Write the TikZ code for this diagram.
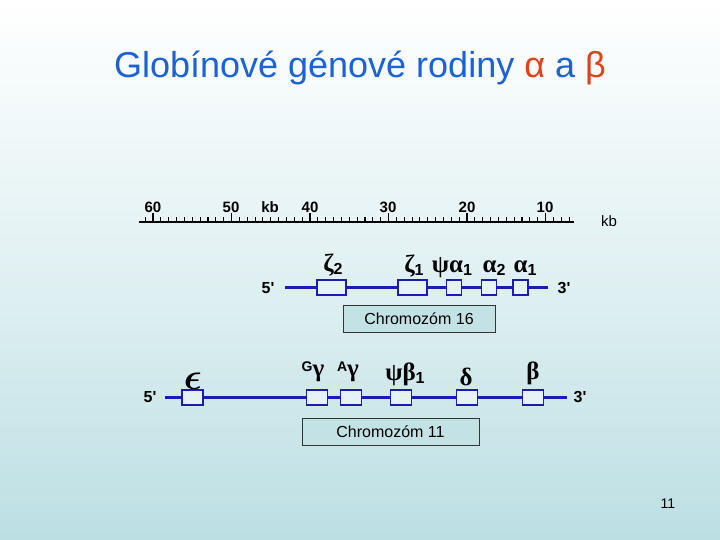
\documentclass[tikz,border=0pt]{standalone}
\usepackage{fontspec}
\setmainfont{Liberation Sans}
\newfontfamily\grk{Liberation Serif}
\usepackage{bm}
\usepackage{graphicx}
\definecolor{titleblue}{HTML}{1A62D6}
\definecolor{titlered}{HTML}{E0401A}
\definecolor{chrom}{HTML}{1C1CB0}
\definecolor{bgbot}{HTML}{BCDFE3}
\definecolor{boxfill}{HTML}{E6F3F6}
\definecolor{labfill}{HTML}{C3E2E6}
\tikzset{
  gene/.style={draw=chrom, line width=1.6pt, fill=boxfill, minimum height=15pt, inner sep=0pt},
  chromline/.style={draw=chrom, line width=3pt},
  chromlab/.style={draw=black!80, line width=0.8pt, fill=labfill, minimum height=27pt, inner sep=0pt, font=\fontsize{16}{18}\selectfont},
  endlab/.style={font=\fontsize{16}{18}\selectfont\bfseries},
  scalelab/.style={font=\fontsize{15}{16}\selectfont\bfseries, anchor=base},
  glab/.style={font=\fontsize{25}{28}\selectfont\grk\bfseries, inner sep=0pt},
}
\newcommand{\gsub}[1]{{\rmfamily\fontsize{16}{17}\selectfont\bfseries\raisebox{-3pt}{#1}}}
\newcommand{\gsup}[1]{{\rmfamily\fontsize{14}{15}\selectfont\bfseries\raisebox{5pt}{#1}}}
\begin{document}
\begin{tikzpicture}[x=1pt,y=-1pt]
\useasboundingbox (0,0) rectangle (720,540);
\shade[top color=white, bottom color=bgbot, middle color=white!55!bgbot] (0,0) rectangle (720,540);
% title
\node[font=\fontsize{36}{40}\selectfont, text=titleblue] (title) at (360,68) {Globínové génové rodiny \textcolor{titlered}{α} a \textcolor{titlered}{β}};
% ruler
\coordinate (rl) at (139,222);
\coordinate (rr) at (574,222);
\draw[line width=2.5pt] (rl) -- (rr);
\foreach \k in {7,...,61}{
  \pgfmathsetmacro{\xx}{153+(60-\k)*7.85}
  \pgfmathtruncatemacro{\m}{mod(\k,10)}
  \ifnum\m=0
    \draw[line width=1.5pt] (\xx,222) -- (\xx,213);
  \else
    \draw[line width=1.1pt] (\xx,222) -- (\xx,217.5);
  \fi
}
\node[scalelab] (s60) at (153,212.5) {60};
\node[scalelab] (s50) at (231,212.5) {50};
\node[scalelab] (skb) at (270,212.5) {kb};
\node[scalelab] (s40) at (310,212.5) {40};
\node[scalelab] (s30) at (388,212.5) {30};
\node[scalelab] (s20) at (467,212.5) {20};
\node[scalelab] (s10) at (545,212.5) {10};
\node[font=\fontsize{15}{16}\selectfont] (kb) at (609,221) {kb};
% chromosome 16
\node[endlab] (c16l) at (268,288) {5\textquotesingle};
\node[endlab] (c16r) at (564,288) {3\textquotesingle};
\coordinate (c16a) at (285,287);
\coordinate (c16b) at (548,287);
\draw[chromline] (c16a) -- (c16b);
\node[gene, minimum width=29pt] (z2) at (331.5,287.5) {};
\node[gene, minimum width=29pt] (z1) at (412.5,287.5) {};
\node[gene, minimum width=15pt] (pa1) at (454,287.5) {};
\node[gene, minimum width=15pt] (a2) at (489,287.5) {};
\node[gene, minimum width=15pt] (a1) at (520.5,287.5) {};
\node[glab] (lz2) at (333,265) {ζ\gsub{2}};
\node[glab] (lz1) at (414,266) {ζ\gsub{1}};
\node[glab] (lpa1) at (452,268) {ψα\gsub{1}};
\node[glab] (la2) at (494,268) {α\gsub{2}};
\node[glab] (la1) at (525,268) {α\gsub{1}};
\node[chromlab, minimum width=152pt] (chr16) at (419,318.5) {Chromozóm 16};
% chromosome 11
\node[endlab] (c11l) at (150,397) {5\textquotesingle};
\node[endlab] (c11r) at (580,397) {3\textquotesingle};
\coordinate (c11a) at (165,397);
\coordinate (c11b) at (567,397);
\draw[chromline] (c11a) -- (c11b);
\node[gene, minimum width=21pt] (eps) at (192.5,397.5) {};
\node[gene, minimum width=21pt] (gg) at (317,397.5) {};
\node[gene, minimum width=21pt] (ag) at (351,397.5) {};
\node[gene, minimum width=21pt] (pb1) at (401,397.5) {};
\node[gene, minimum width=21pt] (del) at (467,397.5) {};
\node[gene, minimum width=21pt] (bet) at (533,397.5) {};
\node[glab] (leps) at (193,381) {\scalebox{1.5}{$\bm{\epsilon}$}};
\node[glab] (lgg) at (313,372) {\gsup{G}γ};
\node[glab] (lag) at (348,372) {\gsup{A}γ};
\node[glab] (lpb1) at (405,374) {ψβ\gsub{1}};
\node[glab] (ldel) at (466,377) {δ};
\node[glab] (lbet) at (533,373) {β};
\node[chromlab, minimum width=177pt] (chr11) at (390.5,431.5) {Chromozóm 11};
% page number
\node[font=\fontsize{14}{16}\selectfont] (pg) at (668,504) {11};
\end{tikzpicture}
\end{document}
